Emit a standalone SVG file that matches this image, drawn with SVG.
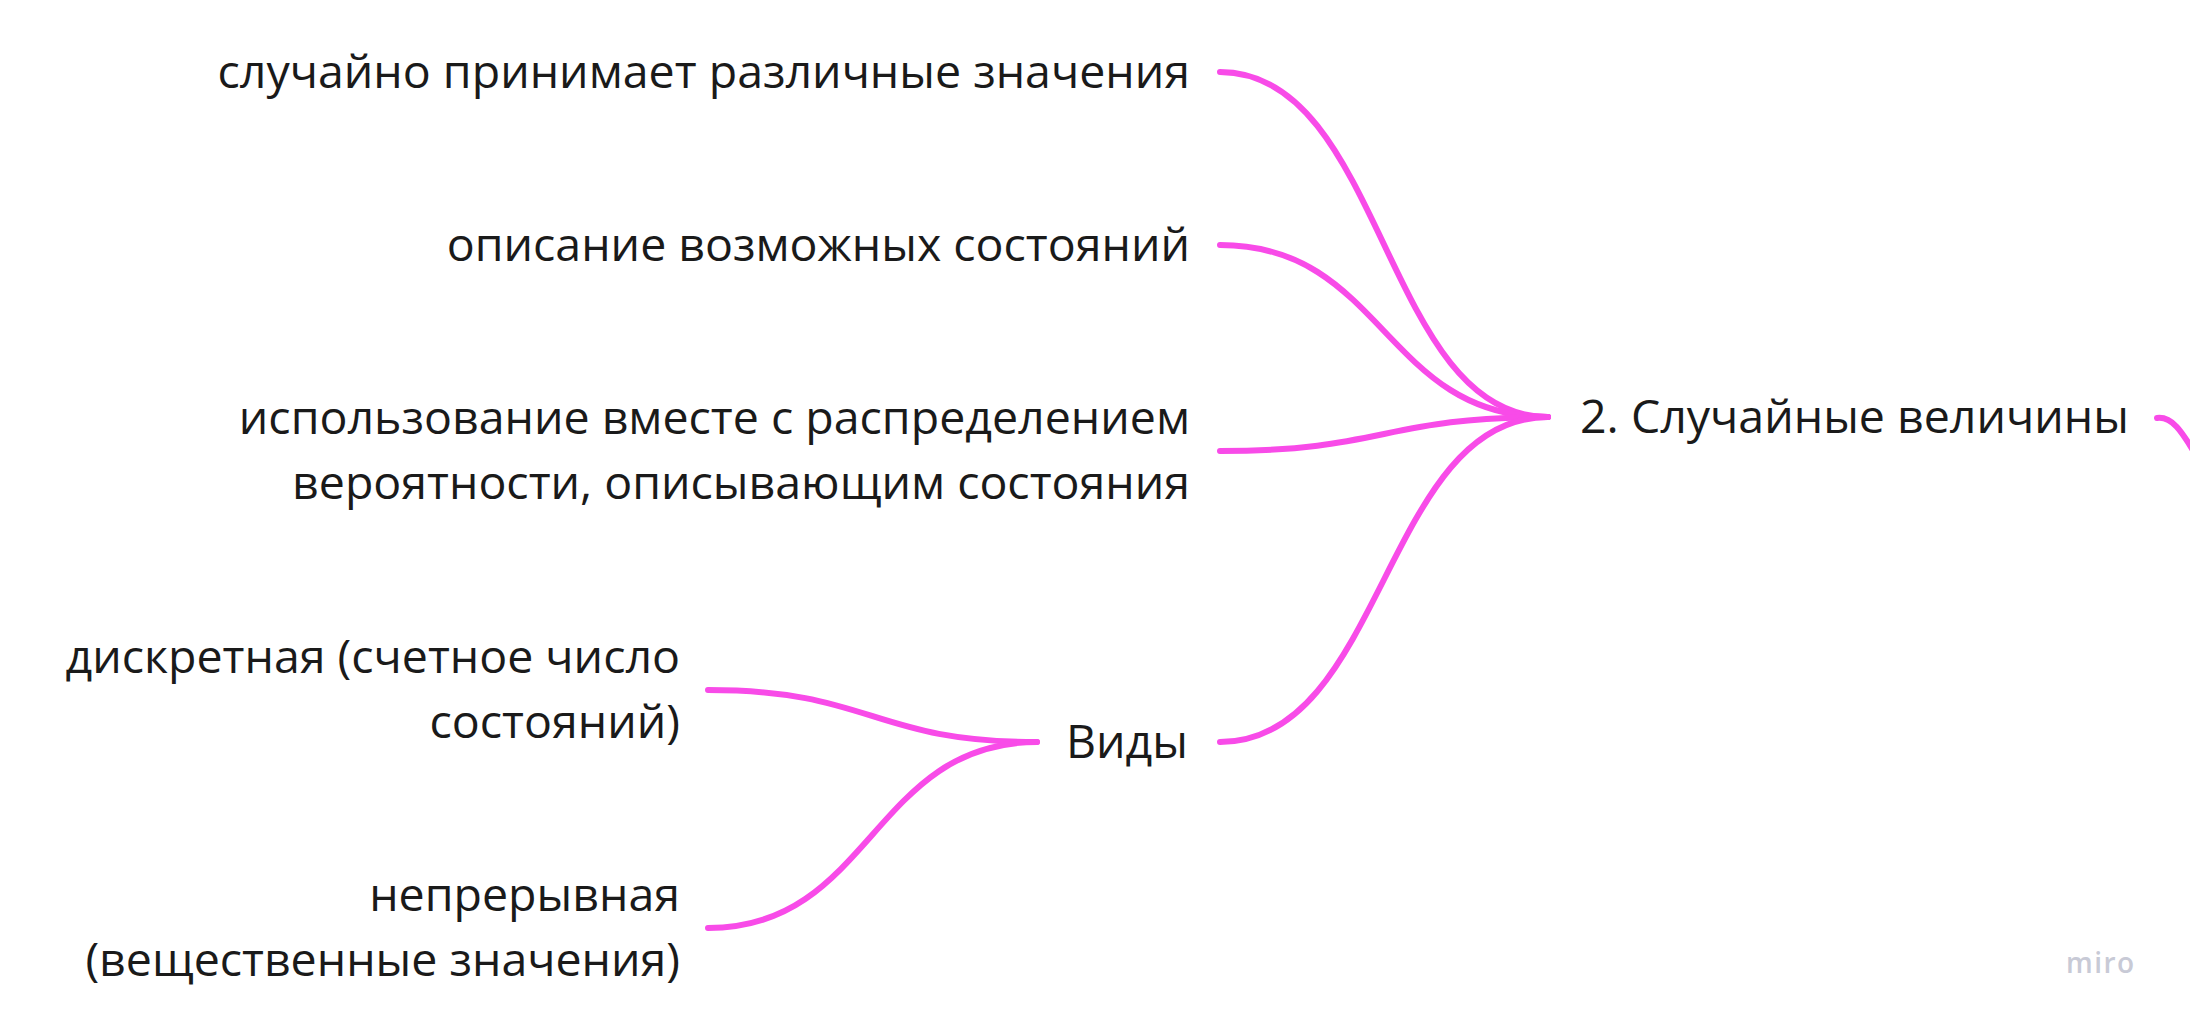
<svg xmlns="http://www.w3.org/2000/svg" width="2190" height="1026" viewBox="0 0 2190 1026">
<style>
.t{font-family:"Open Sans","Noto Sans",sans-serif;font-size:46.5px;fill:#1a1a1a}
.r{text-anchor:end}
.c{fill:none;stroke:#f84be8;stroke-width:6;stroke-linecap:round}
.m{font-family:"Open Sans","Noto Sans",sans-serif;font-size:28px;font-weight:600;fill:#c8cad6;letter-spacing:1.5px}
</style>
<rect width="2190" height="1026" fill="#ffffff"/>
<g id="connectors">
<path class="c" d="M1220 72 C1384 72 1384 417 1548 417"/>
<path class="c" d="M1220 245 C1384 245 1384 417 1548 417"/>
<path class="c" d="M1220 451 C1384 451 1384 417 1548 417"/>
<path class="c" d="M1220 742 C1384 742 1384 417 1548 417"/>
<path class="c" d="M1037 742 C872 742 872 690 708 690"/>
<path class="c" d="M1037 742 C872 742 872 928 708 928"/>
<path class="c" d="M2157 418 C2172 416 2182 432 2194 452"/>
</g>
<g id="node-root"><text class="t" x="1580" y="433">2. Случайные величины</text></g>
<g id="node-random"><text class="t r" x="1190" y="88">случайно принимает различные значения</text></g>
<g id="node-states"><text class="t r" x="1190" y="261">описание возможных состояний</text></g>
<g id="node-usage"><text class="t r" x="1190" y="434">использование вместе с распределением</text><text class="t r" x="1190" y="499">вероятности, описывающим состояния</text></g>
<g id="node-kinds"><text class="t r" x="1188" y="758">Виды</text></g>
<g id="node-discrete"><text class="t r" x="680" y="673">дискретная (счетное число</text><text class="t r" x="680" y="738">состояний)</text></g>
<g id="node-continuous"><text class="t r" x="680" y="911">непрерывная</text><text class="t r" x="680" y="976">(вещественные значения)</text></g>
<text class="m" x="2066" y="973">miro</text>
</svg>
